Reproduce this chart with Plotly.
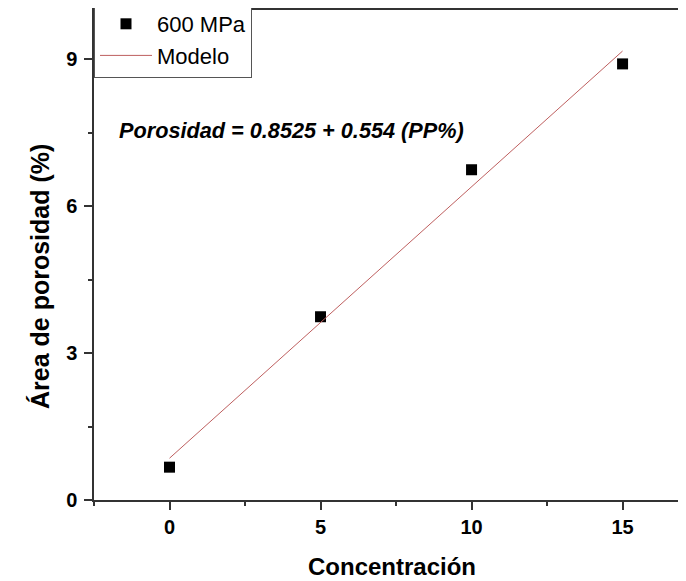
import plotly.graph_objects as go

# Data
concentracion = [0, 5, 10, 15]
porosidad = [0.67, 3.74, 6.74, 8.90]
modelo_x = [0, 15]
modelo_y = [0.8525, 9.1625]
serie_nombre = "600 MPa"
modelo_nombre = "Modelo"
ecuacion = "Porosidad = 0.8525 + 0.554 (PP%)"
x_ticks = [0, 5, 10, 15]
y_ticks = [0, 3, 6, 9]

FONT = "Arial, Liberation Sans, sans-serif"
AX = "#333333"

# page body has an 8px margin: figure coords = page coords - 8
W, H = 678, 573
L, T, B = 86, 2, 81
PW, PH = W - L, H - T - B


def px(xp):  # page x -> paper
    return (xp - 8 - L) / PW


def py(yp):  # page y -> paper
    return (H - B - (yp - 8)) / PH


fig = go.Figure()
fig.add_trace(go.Scatter(
    x=concentracion, y=porosidad, mode="markers", name=serie_nombre,
    marker=dict(symbol="square", size=11, color="black"),
))
fig.add_trace(go.Scatter(
    x=modelo_x, y=modelo_y, mode="lines", name=modelo_nombre,
    line=dict(color="rgb(190,95,95)", width=1),
))

fig.update_layout(
    width=W, height=H,
    margin=dict(l=L, r=0, t=T, b=B, autoexpand=False),
    paper_bgcolor="white", plot_bgcolor="white",
    showlegend=True,
    legend=dict(
        x=0, y=py(2), xanchor="left", yanchor="top",
        bgcolor="white", bordercolor="#555555", borderwidth=1,
        font=dict(family=FONT, size=22, color="black"),
        itemwidth=52, tracegroupgap=0,
    ),
    xaxis=dict(
        range=[-2.5, 17.1], tickvals=x_ticks, ticktext=[str(v) for v in x_ticks],
        showgrid=False, zeroline=False,
        showline=True, linecolor=AX, linewidth=1.5, mirror=True,
        ticks="outside", ticklen=8, tickwidth=1.5, tickcolor=AX,
        minor=dict(tick0=-2.5, dtick=2.5, ticks="outside", ticklen=4,
                   tickwidth=1.5, tickcolor=AX, showgrid=False),
        tickfont=dict(family=FONT, size=20, color="black", weight="bold"),
    ),
    yaxis=dict(
        range=[0, 10], tickvals=y_ticks, ticktext=[str(v) for v in y_ticks],
        showgrid=False, zeroline=False,
        showline=True, linecolor=AX, linewidth=1.5, mirror=False,
        ticks="outside", ticklen=8, tickwidth=1.5, tickcolor=AX,
        minor=dict(tick0=0, dtick=1.5, ticks="outside", ticklen=4,
                   tickwidth=1.5, tickcolor=AX, showgrid=False),
        tickfont=dict(family=FONT, size=20, color="black", weight="bold"),
        ticklabelstandoff=3,
    ),
    annotations=[
        dict(text=ecuacion, xref="paper", yref="paper",
             x=px(117), y=py(130),
             xanchor="left", yanchor="middle", showarrow=False,
             font=dict(family=FONT, size=21.7, color="black", weight="bold",
                       style="italic")),
        dict(text="Concentración", xref="paper", yref="paper",
             x=px(392), y=py(566),
             xanchor="center", yanchor="middle", showarrow=False,
             font=dict(family=FONT, size=24, color="black", weight="bold")),
        dict(text="Área de porosidad (%)", xref="paper", yref="paper",
             x=px(40), y=py(277), textangle=-90,
             xanchor="center", yanchor="middle", showarrow=False,
             font=dict(family=FONT, size=25, color="black", weight="bold")),
    ],
)

fig.write_html("out.html")
